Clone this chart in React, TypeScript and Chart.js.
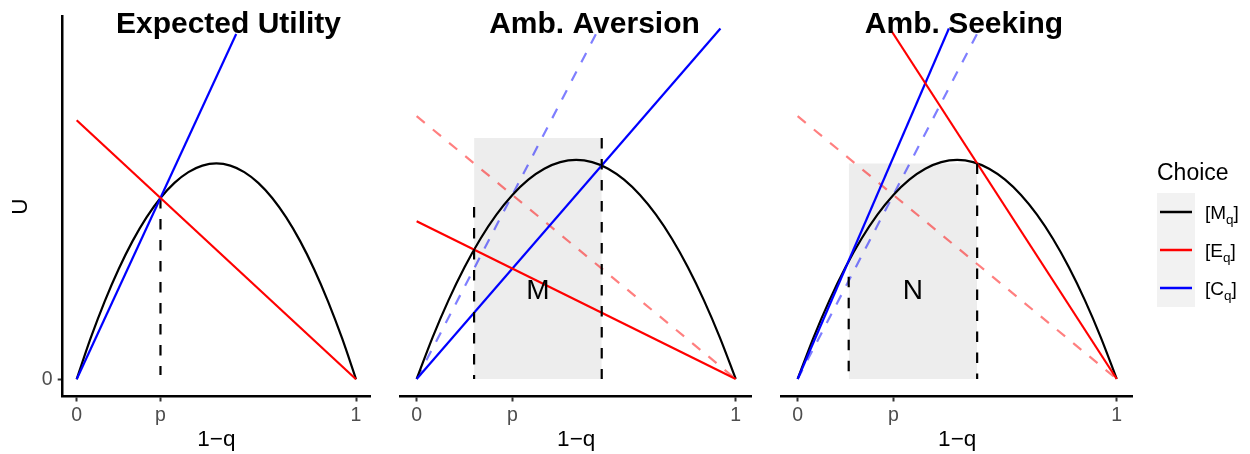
import React, { useEffect, useRef } from 'react';
import { Chart, registerables } from 'chart.js';

Chart.register(...registerables);

const FONT = '"Liberation Sans", Arial, Helvetica, sans-serif';
Chart.defaults.font.family = FONT;

// ---------- data ----------
const X_TICK_VALUES = [0, 0.3, 1];
const X_TICK_LABELS = ['0', 'p', '1'];
const Y_TICK_VALUES = [0];
const Y_TICK_LABELS = ['0'];

// utility curve M_q
const Q_VALUES = [0, 0.05, 0.1, 0.15, 0.2, 0.25, 0.3, 0.35, 0.4, 0.45, 0.5, 0.55, 0.6, 0.65, 0.7, 0.75, 0.8, 0.85, 0.9, 0.95, 1];
const M_VALUES = [0, 0.19, 0.36, 0.51, 0.64, 0.75, 0.84, 0.91, 0.96, 0.99, 1.0, 0.99, 0.96, 0.91, 0.84, 0.75, 0.64, 0.51, 0.36, 0.19, 0];

// Expected Utility
const EU_E = [[0, 1.2], [1, 0]];
const EU_C = [[0, 0], [0.571, 1.6]];
const EU_VLINE = [[0.3, 0.84], [0.3, 0.02]];

// Amb. Aversion
const AA_E = [[0, 0.72], [1, 0]];
const AA_C = [[0, 0], [0.952, 1.6]];
const AA_RECT = [[0.18, 0], [0.18, 1.1], [0.58, 1.1], [0.58, 0]];
const AA_VLINE_L = [[0.18, 0.785], [0.18, 0]];
const AA_VLINE_R = [[0.58, 1.1], [0.58, 0]];
const AA_LABEL = { text: 'M', x: 0.38, y: 0.4 };

// Amb. Seeking
const AS_E = [[0.289, 1.6], [1, 0]];
const AS_C = [[0, 0], [0.474, 1.6]];
const AS_RECT = [[0.16, 0], [0.16, 0.984], [0.5625, 0.984], [0.5625, 0]];
const AS_VLINE_L = [[0.16, 0.467], [0.16, 0]];
const AS_VLINE_R = [[0.5625, 0.984], [0.5625, 0]];
const AS_LABEL = { text: 'N', x: 0.361, y: 0.4 };

const LEGEND_TITLE = 'Choice';
const LEGEND_MAIN = ['[M', '[E', '[C'];
const LEGEND_SUB = ['q', 'q', 'q'];
const LEGEND_COLORS = ['#000000', '#FF0000', '#0000FF'];

// ---------- helpers ----------
const pts = (arr: number[][]) => arr.map(([x, y]) => ({ x, y }));
const curvePts = () => Q_VALUES.map((q, i) => ({ x: q, y: M_VALUES[i] }));

const DASH = [10.5, 10.5];
const LW = 2.2;
const TICK_SIZE = 19.5;
const AXIS_TITLE_SIZE = 22.5;

const lineDs = (data: any[], color: string, dash: number[] = []) => ({
  data,
  borderColor: color,
  borderWidth: LW,
  borderDash: dash,
  pointRadius: 0,
  fill: false,
  tension: 0,
});

const rectDs = (data: any[]) => ({
  data,
  borderColor: 'rgba(0,0,0,0)',
  borderWidth: 0,
  backgroundColor: '#EDEDED',
  pointRadius: 0,
  fill: 'origin',
  tension: 0,
});

const curveDs = () => ({
  data: curvePts(),
  borderColor: '#000000',
  borderWidth: LW,
  pointRadius: 0,
  fill: false,
  cubicInterpolationMode: 'monotone',
});

interface PanelSpec {
  title: string;
  titleCenter: number;
  left: number;
  width: number;
  padLeft: number;
  padRight: number;
  showY: boolean;
  datasets: any[];
  label?: { text: string; x: number; y: number };
  legend?: boolean;
}

const withOrder = (list: any[]) => list.map((d, i) => ({ ...d, order: list.length - i }));

const PANELS: PanelSpec[] = [
  {
    title: 'Expected Utility',
    titleCenter: 228.5,
    left: 0,
    width: 390,
    padLeft: 0,
    padRight: 20,
    showY: true,
    datasets: withOrder([
      curveDs(),
      lineDs(pts(EU_VLINE), '#000000', DASH),
      lineDs(pts(EU_C), '#0000FF'),
      lineDs(pts(EU_E), '#FF0000'),
    ]),
  },
  {
    title: 'Amb. Aversion',
    titleCenter: 594.5,
    left: 390,
    width: 380,
    padLeft: 10.7,
    padRight: 18.3,
    showY: false,
    label: AA_LABEL,
    datasets: withOrder([
      rectDs(pts(AA_RECT)),
      lineDs(pts(EU_E), 'rgba(255,0,0,0.5)', DASH),
      lineDs(pts(EU_C), 'rgba(0,0,255,0.5)', DASH),
      curveDs(),
      lineDs(pts(AA_C), '#0000FF'),
      lineDs(pts(AA_E), '#FF0000'),
      lineDs(pts(AA_VLINE_L), '#000000', DASH),
      lineDs(pts(AA_VLINE_R), '#000000', DASH),
    ]),
  },
  {
    title: 'Amb. Seeking',
    titleCenter: 964,
    left: 770,
    width: 480,
    padLeft: 11.7,
    padRight: 117.3,
    showY: false,
    label: AS_LABEL,
    legend: true,
    datasets: withOrder([
      rectDs(pts(AS_RECT)),
      lineDs(pts(EU_E), 'rgba(255,0,0,0.5)', DASH),
      lineDs(pts(EU_C), 'rgba(0,0,255,0.5)', DASH),
      curveDs(),
      lineDs(pts(AS_C), '#0000FF'),
      lineDs(pts(AS_E), '#FF0000'),
      lineDs(pts(AS_VLINE_L), '#000000', DASH),
      lineDs(pts(AS_VLINE_R), '#000000', DASH),
    ]),
  },
];

const makeTextPlugin = (spec: PanelSpec) => ({
  id: 'panelText',
  afterDraw(chart: any) {
    const ctx = chart.ctx;
    ctx.save();
    if (spec.label) {
      const px = chart.scales.x.getPixelForValue(spec.label.x);
      const py = chart.scales.y.getPixelForValue(spec.label.y);
      ctx.font = `28px ${FONT}`;
      ctx.fillStyle = '#000000';
      ctx.textAlign = 'center';
      ctx.textBaseline = 'middle';
      ctx.fillText(spec.label.text, px, py);
    }
    ctx.font = `bold 30px ${FONT}`;
    ctx.fillStyle = '#000000';
    ctx.textAlign = 'center';
    ctx.textBaseline = 'alphabetic';
    ctx.fillText(spec.title, spec.titleCenter - spec.left, 33);

    if (spec.legend) {
      const ox = -spec.left;
      ctx.textAlign = 'left';
      ctx.font = `23px ${FONT}`;
      ctx.fillText(LEGEND_TITLE, 1157 + ox, 180);
      ctx.fillStyle = '#F2F2F2';
      ctx.fillRect(1157 + ox, 193, 38, 114);
      LEGEND_MAIN.forEach((main, i) => {
        const cy = 212 + i * 38;
        ctx.strokeStyle = LEGEND_COLORS[i];
        ctx.lineWidth = 2.5;
        ctx.beginPath();
        ctx.moveTo(1160 + ox, cy);
        ctx.lineTo(1192 + ox, cy);
        ctx.stroke();
        ctx.fillStyle = '#000000';
        ctx.font = `19px ${FONT}`;
        let x = 1205 + ox;
        const base = cy + 7;
        ctx.fillText(main, x, base);
        x += ctx.measureText(main).width;
        ctx.font = `13.5px ${FONT}`;
        ctx.fillText(LEGEND_SUB[i], x, base + 4.5);
        x += ctx.measureText(LEGEND_SUB[i]).width;
        ctx.font = `19px ${FONT}`;
        ctx.fillText(']', x, base);
      });
    }
    ctx.restore();
  },
});

const axisGrid = {
  display: true,
  drawOnChartArea: false,
  drawTicks: true,
  tickLength: 5,
  tickWidth: 2,
  tickColor: '#333333',
};
const axisBorder = { display: true, color: '#000000', width: 2.5 };

function Panel({ spec }: { spec: PanelSpec }) {
  const ref = useRef<HTMLCanvasElement>(null);
  useEffect(() => {
    if (!ref.current) return;
    const chart = new Chart(ref.current, {
      type: 'line',
      data: { datasets: spec.datasets },
      options: {
        animation: false,
        responsive: false,
        devicePixelRatio: 1,
        layout: { padding: { left: spec.padLeft, right: spec.padRight, top: 11, bottom: 0 } },
        plugins: { legend: { display: false }, tooltip: { enabled: false }, title: { display: false } },
        elements: { line: { tension: 0 }, point: { radius: 0 } },
        scales: {
          x: {
            type: 'linear',
            min: -0.05,
            max: 1.05,
            afterBuildTicks: (s: any) => {
              s.ticks = X_TICK_VALUES.map((v) => ({ value: v }));
            },
            afterFit: (s: any) => {
              s.height = 57.5;
            },
            ticks: {
              callback: (_v: any, i: number) => X_TICK_LABELS[i],
              color: '#4D4D4D',
              font: { size: TICK_SIZE },
              padding: 2.5,
              autoSkip: false,
              maxRotation: 0,
              minRotation: 0,
            },
            grid: axisGrid,
            border: axisBorder,
            title: {
              display: true,
              text: '1−q',
              color: '#000000',
              font: { size: AXIS_TITLE_SIZE },
              padding: { top: 0, bottom: 0.5 },
            },
          },
          y: {
            type: 'linear',
            display: spec.showY,
            min: -0.08,
            max: 1.68,
            afterBuildTicks: (s: any) => {
              s.ticks = Y_TICK_VALUES.map((v) => ({ value: v }));
            },
            afterFit: (s: any) => {
              if (spec.showY) s.width = 62.7;
            },
            ticks: {
              callback: (_v: any, i: number) => Y_TICK_LABELS[i],
              color: '#4D4D4D',
              font: { size: TICK_SIZE },
              padding: 5,
            },
            grid: axisGrid,
            border: axisBorder,
            title: {
              display: true,
              text: 'U',
              color: '#000000',
              font: { size: AXIS_TITLE_SIZE },
              padding: { top: 7.5, bottom: 0 },
            },
          },
        },
      } as any,
      plugins: [makeTextPlugin(spec)],
    });
    return () => chart.destroy();
  }, [spec]);
  return (
    <canvas
      ref={ref}
      width={spec.width}
      height={454}
      style={{ position: 'absolute', left: spec.left, top: 0, width: spec.width, height: 454 }}
    />
  );
}

export default function App() {
  return (
    <div style={{ position: 'fixed', left: 0, top: 0, width: 1250, height: 454, background: '#FFFFFF', overflow: 'hidden' }}>
      {PANELS.map((p) => (
        <Panel key={p.title} spec={p} />
      ))}
    </div>
  );
}
